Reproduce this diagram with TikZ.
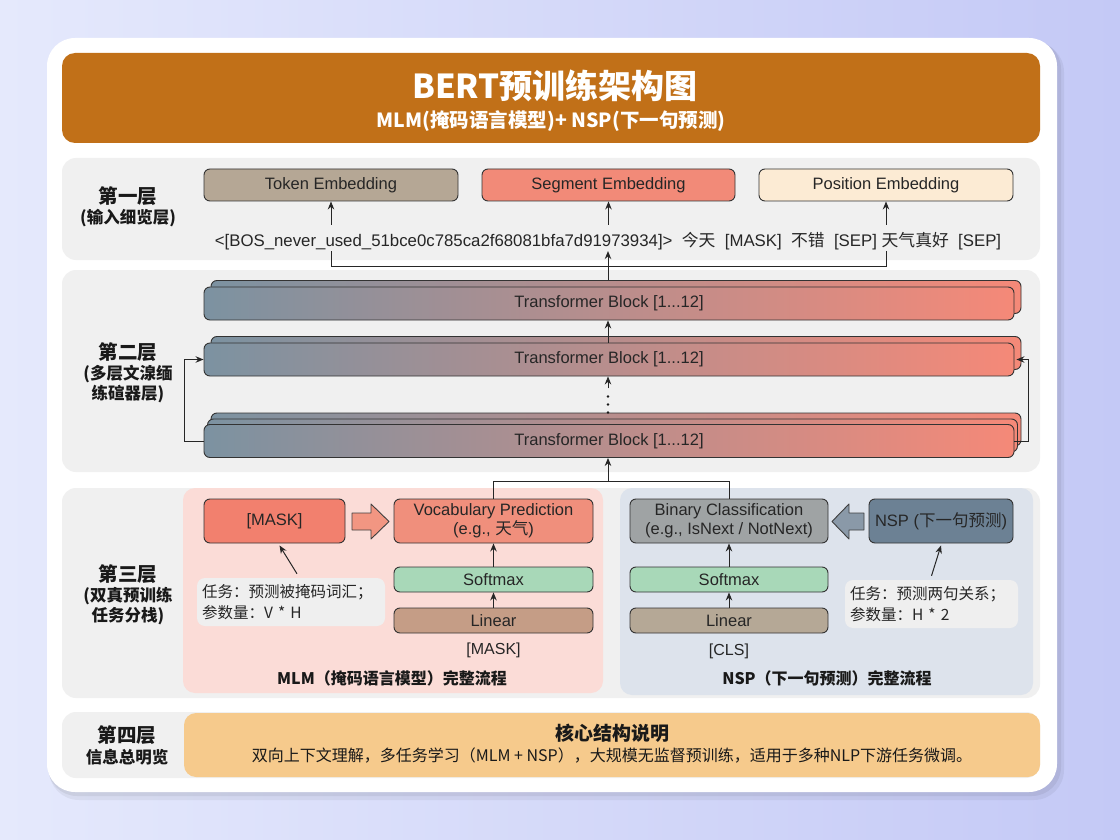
\documentclass[tikz,border=0pt]{standalone}
\usepackage{fontspec}
\setmainfont{Liberation Sans}
\newfontfamily\cjk{Noto Sans CJK SC}
\usetikzlibrary{arrows.meta,calc}
\definecolor{bgL}{RGB}{229,233,252}
\definecolor{bgR}{RGB}{196,201,246}
\definecolor{titleC}{RGB}{193,112,24}
\definecolor{panelC}{RGB}{240,240,240}
\definecolor{tokC}{RGB}{181,167,149}
\definecolor{segC}{RGB}{242,138,120}
\definecolor{posC}{RGB}{252,235,212}
\definecolor{slateC}{RGB}{124,146,161}
\definecolor{salmC}{RGB}{245,137,120}
\definecolor{maskC}{RGB}{242,128,110}
\definecolor{vocC}{RGB}{240,143,124}
\definecolor{mlmP}{RGB}{251,220,215}
\definecolor{nspP}{RGB}{221,227,236}
\definecolor{binC}{RGB}{159,163,164}
\definecolor{nspC}{RGB}{108,129,148}
\definecolor{softC}{RGB}{168,216,184}
\definecolor{linM}{RGB}{197,157,134}
\definecolor{linN}{RGB}{181,168,150}
\definecolor{noteC}{RGB}{239,239,239}
\definecolor{botC}{RGB}{246,202,140}
\definecolor{arrM}{RGB}{242,150,130}
\definecolor{arrN}{RGB}{138,153,168}
\begin{document}
\begin{tikzpicture}[x=1pt,y=-1pt,
  box/.style={draw=black!80, line width=0.9pt, rounded corners=6pt, inner sep=0pt, align=center,
    font=\fontsize{16.5}{19}\selectfont, text=black!85},
  tblk/.style={draw=black!80, line width=0.9pt, rounded corners=6pt, inner sep=0pt,
    left color=slateC, right color=salmC, minimum width=810pt, minimum height=33pt,
    font=\fontsize{16.5}{19}\selectfont, text=black!85},
  panel/.style={fill=panelC, rounded corners=14pt},
  lab/.style={font=\cjk\bfseries\fontsize{19.5}{22}\selectfont, text=black!90},
  sublab/.style={font=\cjk\bfseries\fontsize{16.5}{20}\selectfont, text=black!90, align=center},
  note/.style={fill=noteC, rounded corners=8pt, align=left, inner sep=0pt,
    font=\cjk\fontsize{15.5}{21}\selectfont, text=black!85},
  conn/.style={draw=black!85, line width=1pt},
  arr/.style={conn, -{Stealth[length=8pt,width=6.5pt]}},
  plain/.style={font=\fontsize{16}{19}\selectfont, text=black!85, inner sep=1pt}
]
\useasboundingbox (0,0) rectangle (1120,840);
\shade[left color=bgL, right color=bgR] (0,0) rectangle (1120,840);
% card shadow and card
\fill[black, opacity=0.05, rounded corners=30pt] (49,42) rectangle (1064,800);
\fill[black, opacity=0.06, rounded corners=29pt] (48,40) rectangle (1061,796);
\fill[white, rounded corners=28pt] (47,38) rectangle (1057,792);
% title bar
\fill[titleC, rounded corners=13pt] (62,53) rectangle (1040,143);
\node[font=\cjk\bfseries\fontsize{33}{36}\selectfont, text=white] (ttl) at (555,86) {BERT预训练架构图};
\node[font=\cjk\bfseries\fontsize{19.5}{22}\selectfont, text=white] (sub) at (551,121) {MLM(掩码语言模型)+ NSP(下一句预测)};
% layer panels
\fill[panel] (62,158) rectangle (1040,260);
\fill[panel] (62,270) rectangle (1040,472);
\fill[panel] (62,488) rectangle (1040,698);
\fill[panel] (62,712) rectangle (1040,778);
% ---------- layer 1
\node[lab] (l1) at (128,196) {第一层};
\node[sublab] (l1s) at (128,218) {(输入细览层)};
\node[box, fill=tokC, minimum width=254pt, minimum height=32pt] (tok) at (331,185) {Token Embedding};
\node[box, fill=segC, minimum width=253pt, minimum height=32pt] (seg) at (608.5,185) {Segment Embedding};
\node[box, fill=posC, minimum width=254pt, minimum height=32pt] (pos) at (886,185) {Position Embedding};
\node[plain, font=\fontsize{16.8}{19}\selectfont] (inp) at (608,241) {<[BOS\_never\_used\_51bce0c785ca2f68081bfa7d91973934]>\ \ {\cjk 今天}\ \ [MASK]\ \ {\cjk 不错}\ \ [SEP]\ {\cjk 天气真好}\ \ [SEP]};
\draw[arr] ($(inp.north -| tok)+(0,-6)$) -- (tok.south);
\draw[arr] ($(inp.north -| seg)+(0,-6)$) -- (seg.south);
\draw[arr] ($(inp.north -| pos)+(0,-6)$) -- (pos.south);
\draw[conn] (inp.south -| tok) -- ++(0,15) -| (inp.south -| pos);
% ---------- layer 2
\node[lab] (l2) at (128,352) {第二层};
\node[sublab] (l2s) at (128,384) {(多层文湶缅\\练碹器层)};
\node[tblk] (tb1b) at (616,297) {};
\node[tblk] (tb1) at (609,303.5) {Transformer Block [1...12]};
\node[tblk] (tb2b) at (616,353) {};
\node[tblk] (tb2) at (609,359.5) {Transformer Block [1...12]};
\node[tblk] (tb3c) at (616,429.5) {};
\node[tblk] (tb3b) at (612.5,435.5) {};
\node[tblk] (tb3) at (609,441) {Transformer Block [1...12]};
\draw[arr] (tb1b.north -| inp.south) -- (inp.south);
\draw[arr] (tb2.north -| inp.south) -- (tb1.south -| inp.south);
\draw[draw=black!90, line width=2.8pt, line cap=round, dash pattern=on 0pt off 8pt] (tb3c.north -| inp.south) -- ++(0,-20);
\draw[arr] ($(tb2.south -| inp.south)+(0,12)$) -- (tb2.south -| inp.south);
\draw[arr] (tb3.west) -- ++(-19,0) |- (tb2.west);
\draw[arr] (tb3.east) -- ++(14,0) |- ([xshift=2pt]tb2.east);
% ---------- layer 3
\node[lab] (l3) at (128,574) {第三层};
\node[sublab] (l3s) at (128,606) {(双真预训练\\任务分栈)};
\fill[mlmP, rounded corners=12pt] (183,488) rectangle (603,693);
\fill[nspP, rounded corners=12pt] (620,488) rectangle (1033,695);
% MLM
\node[box, fill=maskC, minimum width=141pt, minimum height=44pt] (mask) at (274.5,521) {[MASK]};
\node[box, fill=vocC, minimum width=199pt, minimum height=44pt] (voc) at (493.5,521) {Vocabulary Prediction\\(e.g., {\cjk 天气})};
\node[box, fill=softC, minimum width=199pt, minimum height=25pt] (smM) at (493.5,579.5) {Softmax};
\node[box, fill=linM, minimum width=199pt, minimum height=25pt] (lnM) at (493.5,620.5) {Linear};
\node[plain] (mtok) at (493.5,650) {[MASK]};
\node[note, minimum width=188pt, minimum height=48pt, text width=178pt] (noteM) at (291,602) {任务：预测被掩码词汇；\\参数量：V * H};
\node[font=\cjk\bfseries\fontsize{16}{19}\selectfont, text=black!90] (mlmt) at (392,678) {MLM（掩码语言模型）完整流程};
\filldraw[fill=arrM, draw=black!75, line width=0.9pt, line join=round]
  (352,513) -- (371,513) -- (371,504) -- (389,521.5) -- (371,539) -- (371,530) -- (352,530) -- cycle;
\draw[arr] (lnM.north) -- (smM.south);
\draw[arr] (smM.north) -- (voc.south);
\draw[arr] ($(noteM.north)+(6,-4)$) -- ($(mask.south)+(5,2)$);
% NSP
\node[box, fill=binC, minimum width=198pt, minimum height=44pt] (bin) at (729,521) {Binary Classification\\(e.g., IsNext / NotNext)};
\node[box, fill=nspC, minimum width=144pt, minimum height=44pt] (nsp) at (941,521) {NSP ({\cjk 下一句预测})};
\node[box, fill=softC, minimum width=198pt, minimum height=25pt] (smN) at (729,579.5) {Softmax};
\node[box, fill=linN, minimum width=198pt, minimum height=25pt] (lnN) at (729,620.5) {Linear};
\node[plain] (ctok) at (729,651) {[CLS]};
\node[note, minimum width=173pt, minimum height=48pt, text width=163pt] (noteN) at (931.5,604) {任务：预测两句关系；\\参数量：H * 2};
\node[font=\cjk\bfseries\fontsize{16}{19}\selectfont, text=black!90] (nspt) at (827,678) {NSP（下一句预测）完整流程};
\filldraw[fill=arrN, draw=black!75, line width=0.9pt, line join=round]
  (864,513) -- (849,513) -- (849,504) -- (832,521.5) -- (849,539) -- (849,530) -- (864,530) -- cycle;
\draw[arr] (lnN.north) -- (smN.south);
\draw[arr] (smN.north) -- (bin.south);
\draw[arr] ($(noteN.north)+(0,-4)$) -- ($(nsp.south)+(0,2)$);
% junction to transformer stack
\draw[conn] (voc.north) -- ++(0,-17) -| (bin.north);
\coordinate (jn) at ($(voc.north)+(0,-17)$);
\draw[arr] (jn -| inp.south) -- (tb3.south -| inp.south);
% ---------- layer 4
\node[lab] (l4) at (127,735) {第四层};
\node[sublab] (l4s) at (127,757) {信息总明览};
\fill[botC, rounded corners=12pt] (184,713) rectangle (1040,777);
\node[font=\cjk\bfseries\fontsize{19}{22}\selectfont, text=black!90] (cst) at (612,733) {核心结构说明};
\node[font=\cjk\fontsize{16}{19}\selectfont, text=black!90] (csd) at (612,756) {双向上下文理解，多任务学习（MLM + NSP），大规模无监督预训练，适用于多种NLP下游任务微调。};
\end{tikzpicture}
\end{document}
